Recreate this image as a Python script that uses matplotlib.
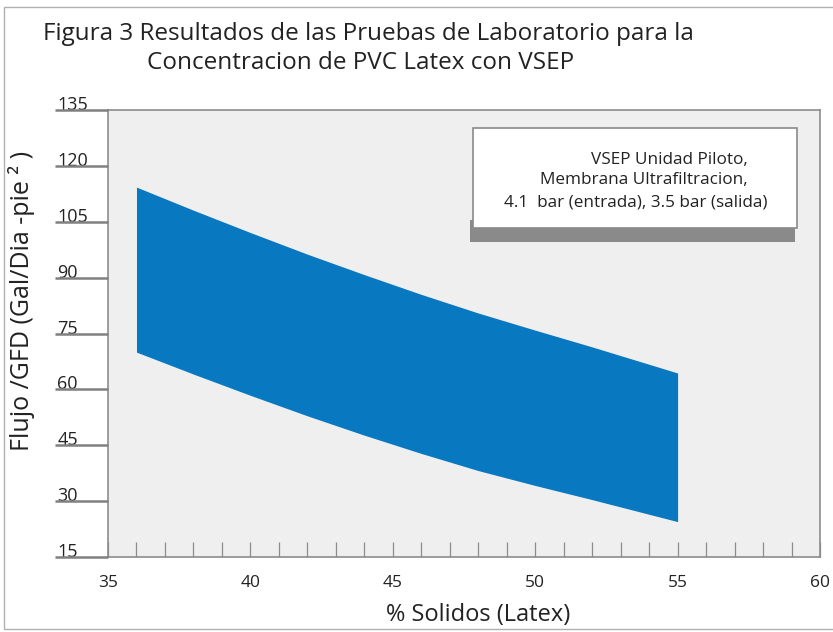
import numpy as np
import matplotlib
matplotlib.use("Agg")
import matplotlib.pyplot as plt
import matplotlib.patches as patches
from matplotlib.ticker import MultipleLocator

# % solids and the flux band (upper / lower limit)
x_solidos = [36, 38, 40, 42, 44, 46, 48, 50, 52, 55]
flujo_max = [114.3, 108.1, 102.1, 96.3, 90.8, 85.5, 80.5, 75.9, 71.4, 64.4]
flujo_min = [70.0, 64.1, 58.4, 52.9, 47.7, 42.8, 38.2, 34.2, 30.4, 24.5]

x_ticks = [35, 40, 45, 50, 55, 60]
y_ticks = [15, 30, 45, 60, 75, 90, 105, 120, 135]

titulo_1 = "Figura 3 Resultados de las Pruebas de Laboratorio para la"
titulo_2 = "Concentracion de PVC Latex con VSEP"
leyenda = ["VSEP Unidad Piloto,",
           "Membrana Ultrafiltracion,",
           "4.1  bar (entrada), 3.5 bar (salida)"]

plt.rcParams['font.family'] = ['Open Sans', 'DejaVu Sans']

BLUE = '#0878c0'
GRID = '#8c8c8c'
TXT = '#222222'

fig = plt.figure(figsize=(8.33, 6.32), dpi=100)
ax = fig.add_axes([108 / 833, 75 / 632, 712 / 833, 447 / 632])
ax.set_facecolor('#efefef')

ax.fill_between(x_solidos, flujo_min, flujo_max, color=BLUE, linewidth=0, zorder=2)

ax.set_xlim(35, 60)
ax.set_ylim(15, 135)
ax.set_xticks(x_ticks)
ax.xaxis.set_minor_locator(MultipleLocator(1))
ax.set_yticks(y_ticks)

for s in ax.spines.values():
    s.set_color(GRID)
    s.set_linewidth(1.2)

ax.tick_params(axis='x', which='both', direction='in', length=11, width=0.9,
               color=GRID, labelsize=12.5, labelcolor=TXT, pad=13)
ax.tick_params(axis='y', length=0, labelsize=13, labelcolor=TXT, pad=36.5)
plt.setp(ax.get_yticklabels(), ha='left', va='baseline')

# long y ticks reaching out to the left, labels sit on top of them
ax.hlines(y_ticks, -53 / 712, 0, transform=ax.get_yaxis_transform(),
          colors='#808080', linewidth=1.8, clip_on=False, zorder=10)

# legend box with drop shadow
shadow = patches.Rectangle((0.509, 0.705), 0.456, 0.05, transform=ax.transAxes,
                           facecolor='#8a8a8a', edgecolor='none', zorder=3)
box = patches.Rectangle((0.5126, 0.736), 0.455, 0.2237, transform=ax.transAxes,
                        facecolor='white', edgecolor='#8a8a8a', linewidth=1.2, zorder=4)
ax.add_patch(shadow)
ax.add_patch(box)
ax.text(0.899, 0.888, leyenda[0], transform=ax.transAxes, ha='right', va='center',
        fontsize=12.3, color=TXT, zorder=5)
ax.text(0.899, 0.843, leyenda[1], transform=ax.transAxes, ha='right', va='center',
        fontsize=12.3, color=TXT, zorder=5)
ax.text(0.9256, 0.794, leyenda[2], transform=ax.transAxes, ha='right', va='center',
        fontsize=12.3, color=TXT, zorder=5)

fig.text(43 / 833, 1 - 34 / 632, titulo_1, ha='left', va='center', fontsize=17.5, color=TXT)
fig.text(147 / 833, 1 - 63 / 632, titulo_2, ha='left', va='center', fontsize=17.5, color=TXT)

fig.text(22 / 833, 1 - 301 / 632, "Flujo /GFD (Gal/Dia -pie ² )", rotation=90,
         ha='center', va='center', fontsize=18, color=TXT)
fig.text(478 / 833, 1 - 615 / 632, "% Solidos (Latex)", ha='center', va='center',
         fontsize=17, color=TXT)

frame = patches.Rectangle((4 / 833, 3 / 632), 1.0, 1 - 10 / 632, transform=fig.transFigure,
                          fill=False, edgecolor='#b0b0b0', linewidth=1.0)
fig.patches.append(frame)

fig.savefig("out.png", dpi=100, facecolor='white')
